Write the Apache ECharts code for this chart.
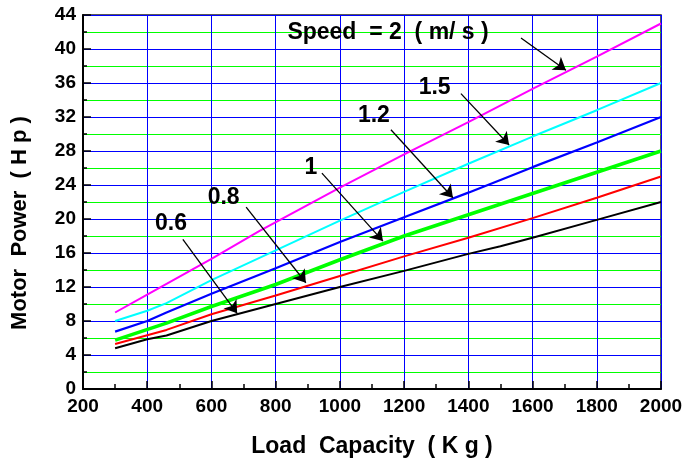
<!DOCTYPE html>
<html>
<head>
<meta charset="utf-8">
<script src="https://cdn.jsdelivr.net/npm/echarts@6/dist/echarts.min.js"></script>
<style>
  html, body { margin: 0; padding: 0; background: #fff; }
  #chart { width: 683px; height: 459px; }
</style>
</head>
<body>
<div id="chart"></div>
<script>
// load capacity (kg) -> motor power (Hp), one array per speed
var speed06 = [[300, 4.8], [400, 5.85], [460, 6.3], [600, 8.0], [800, 10.0], [1000, 12.0], [1200, 13.9], [1400, 15.9], [1500, 16.8], [1600, 17.8], [1800, 19.9], [2000, 22.0]]
var speed08 = [[300, 5.3], [460, 6.95], [600, 8.8], [800, 11.0], [1000, 13.3], [1200, 15.6], [1400, 17.8], [1600, 20.1], [1800, 22.5], [2000, 25.0]]
var speed10 = [[300, 5.75], [460, 7.75], [600, 9.7], [800, 12.3], [1000, 15.2], [1200, 18.0], [1400, 20.5], [1600, 23.0], [1800, 25.5], [2000, 28.0]]
var speed12 = [[300, 6.75], [400, 8.0], [460, 9.0], [600, 11.2], [800, 14.2], [1000, 17.3], [1200, 20.2], [1400, 23.1], [1600, 26.1], [1800, 29.0], [2000, 32.0]]
var speed15 = [[300, 8.0], [400, 9.2], [460, 10.1], [600, 12.8], [800, 16.3], [1000, 19.8], [1200, 23.2], [1400, 26.5], [1600, 29.7], [1800, 32.8], [2000, 36.0]]
var speed20 = [[300, 9.0], [400, 11.1], [600, 15.3], [750, 18.6], [1000, 23.7], [1200, 27.6], [1400, 31.4], [1600, 35.3], [1800, 39.1], [2000, 43.0]]

// annotation text (data coords) and arrows [from, to]
var labelTexts = ['0.6', '0.8', '1', '1.2', '1.5', 'Speed  = 2  ( m/ s )']
var labelPos = [[474, 19.5], [638, 22.5], [910, 26.0], [1106, 32.2], [1295, 35.4], [1150, 41.9]]
var arrows = [
  [[511, 17.6], [680, 8.9]],
  [[708, 21.4], [894, 12.5]],
  [[944, 25.4], [1134, 17.4]],
  [[1159, 30.5], [1352, 22.5]],
  [[1377, 34.75], [1527, 28.7]],
  [[1564, 41.3], [1704, 37.5]]
]

var seriesData = [speed06, speed08, speed10, speed12, speed15, speed20]
var colors = ['#000000', '#ff0000', '#00ff00', '#0000ff', '#00ffff', '#ff00ff']
var widths = [2, 2, 3.6, 2.2, 2, 2]
var font = 'Liberation Sans, Arial, sans-serif'

var chart = echarts.init(document.getElementById('chart'))

var series = seriesData.map(function (d, i) {
  return {
    type: 'line',
    data: d,
    showSymbol: false,
    symbol: 'none',
    silent: true,
    z: 3,
    lineStyle: { color: colors[i], width: widths[i] },
    markLine: {
      silent: true,
      symbol: ['none', 'arrow'],
      symbolSize: 12,
      label: { show: false },
      lineStyle: { color: '#000', width: 1.3, type: 'solid' },
      data: [[{ coord: arrows[i][0] }, { coord: arrows[i][1] }]]
    },
    markPoint: {
      silent: true,
      symbol: 'circle',
      symbolSize: 0,
      label: {
        show: true,
        position: 'inside',
        formatter: labelTexts[i],
        color: '#000',
        fontSize: 23,
        fontWeight: 'bold',
        fontFamily: font
      },
      data: [{ coord: labelPos[i] }]
    }
  }
})

chart.setOption({
  animation: false,
  backgroundColor: '#fff',
  grid: {
    left: 83,
    right: 22,
    top: 15,
    bottom: 70,
    outerBoundsMode: 'none',
    containLabel: false,
    show: true,
    borderColor: '#222',
    borderWidth: 1.5
  },
  xAxis: {
    type: 'value',
    min: 200,
    max: 2000,
    interval: 200,
    name: 'Load  Capacity  ( K g )',
    nameLocation: 'middle',
    nameGap: 46,
    nameTextStyle: { fontSize: 23, fontWeight: 'bold', color: '#000', fontFamily: font },
    axisLine: { show: true, lineStyle: { color: '#000', width: 2 } },
    axisTick: { show: true, inside: true, length: 8, lineStyle: { color: '#000', width: 1.5 } },
    minorTick: { show: true, splitNumber: 2, length: 5, lineStyle: { color: '#000', width: 1.5 } },
    axisLabel: {
      fontSize: 19, fontWeight: 'bold', color: '#000', fontFamily: font, margin: 8,
      formatter: function (v) { return String(v) }
    },
    splitLine: { show: true, lineStyle: { color: '#0000ff', width: 1 } }
  },
  yAxis: {
    type: 'value',
    min: 0,
    max: 44,
    interval: 4,
    name: 'Motor  Power  ( H p )',
    nameLocation: 'middle',
    nameGap: 52,
    nameRotate: 90,
    nameTextStyle: { fontSize: 22, fontWeight: 'bold', color: '#000', fontFamily: font, padding: [0, 42, 0, 0] },
    axisLine: { show: true, lineStyle: { color: '#000', width: 2 } },
    axisTick: { show: true, inside: true, length: 8, lineStyle: { color: '#000', width: 1.5 } },
    minorTick: { show: true, splitNumber: 2, length: 4, lineStyle: { color: '#000', width: 1.5 } },
    axisLabel: { fontSize: 19, fontWeight: 'bold', color: '#000', fontFamily: font, margin: 7 },
    splitLine: { show: true, lineStyle: { color: '#0000ff', width: 1 } },
    minorSplitLine: { show: true, lineStyle: { color: '#00ff00', width: 1 } }
  },
  series: series
})
</script>
</body>
</html>
